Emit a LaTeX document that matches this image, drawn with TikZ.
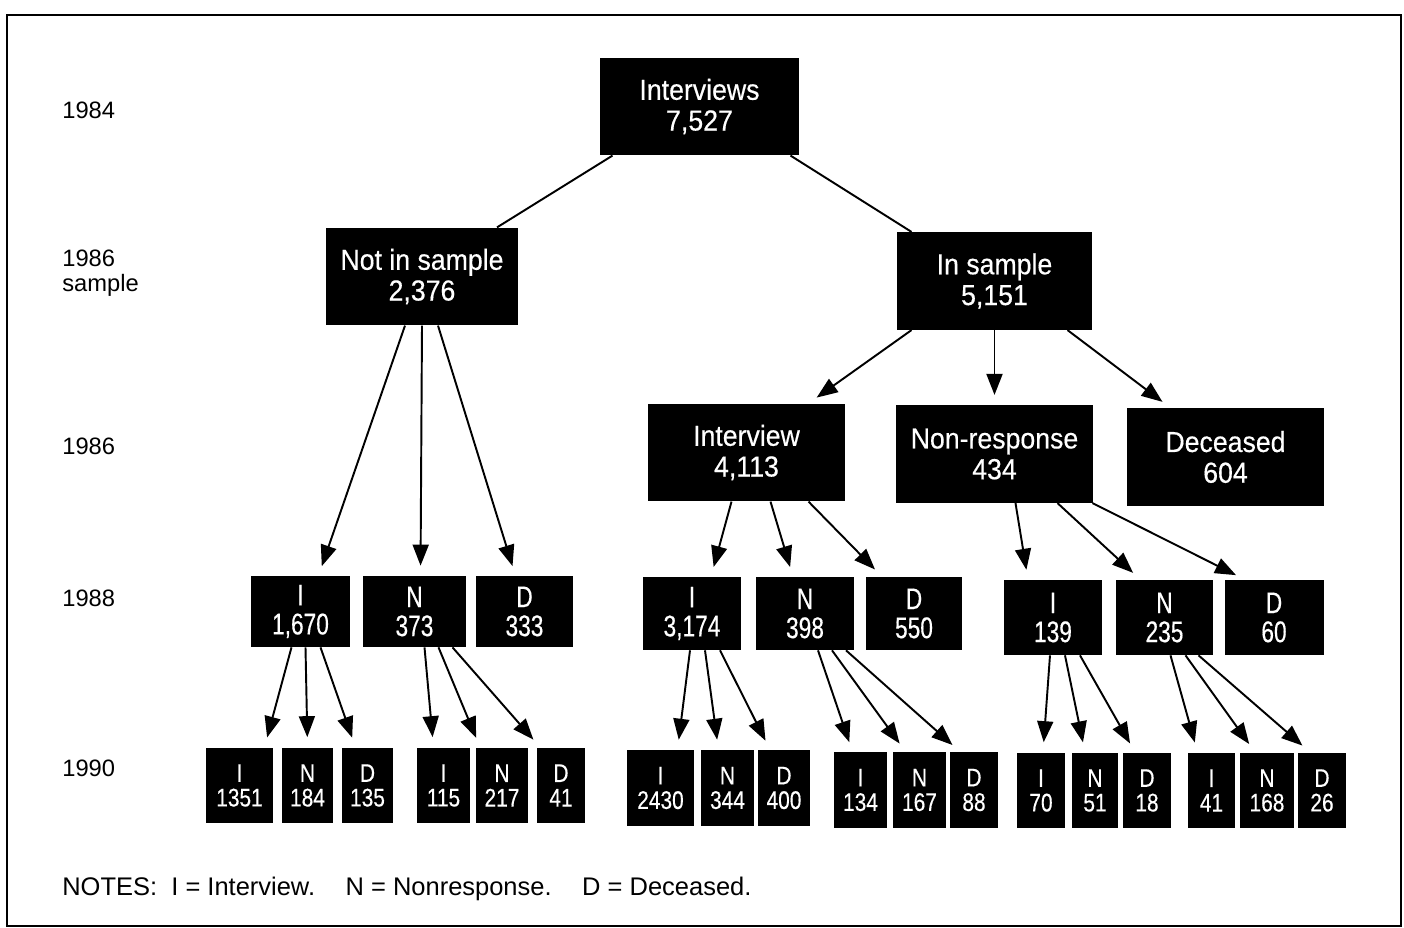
\documentclass[tikz,border=0pt]{standalone}
\usepackage{fontspec}
\setmainfont{Liberation Sans}
\newfontfamily\boxfont[FakeStretch=0.92,FakeBold=0.4]{Liberation Sans}
\newfontfamily\midfont[FakeStretch=0.76,FakeBold=0.4]{Liberation Sans}
\newfontfamily\lowfont[FakeStretch=0.82,FakeBold=0.4]{Liberation Sans}
\usetikzlibrary{arrows.meta,calc}

\tikzset{
  bigbox/.style={fill=black, text=white, align=center, inner sep=0pt,
    minimum width=3.94cm, minimum height=1.95cm,
    font=\boxfont\fontsize{16.5}{17.5}\selectfont},
  midbox/.style={fill=black, text=white, align=center, inner sep=0pt,
    minimum width=1.98cm, minimum height=1.46cm,
    font=\midfont\fontsize{17}{16.5}\selectfont},
  lowbox/.style={fill=black, text=white, align=center, inner sep=0pt,
    minimum height=1.52cm,
    font=\lowfont\fontsize{14.5}{14}\selectfont},
  year/.style={anchor=base west, align=left, inner sep=0pt,
    font=\fontsize{13.5}{14}\selectfont},
  link/.style={line width=1.1pt},
  flow/.style={line width=1.1pt, -{Triangle[length=0.42cm,width=0.32cm]},
    shorten >=0.2cm}
}

\begin{document}
\begin{tikzpicture}[x=0.02cm,y=-0.02cm]
        \useasboundingbox (0,0) rectangle (1404,928);
        \draw[line width=1.2pt] (7,15) rectangle (1401,926);

        % years
        \node[year] (y84) at (62,119) {1984};
        \node[year, anchor=north west] (y86s) at (62,250) {1986\\sample};
        \node[year] (y86) at (62,455) {1986};
        \node[year] (y88) at (62,607) {1988};
        \node[year] (y90) at (62,777) {1990};

        % 1984 and 1986
        \node[bigbox, minimum width=3.98cm] (top) at (699.5,106.5) {Interviews\\7,527};
        \node[bigbox, minimum width=3.84cm] (notin) at (422,276.5) {Not in sample\\2,376};
        \node[bigbox, minimum width=3.90cm] (insample) at (994.5,281) {In sample\\5,151};
        \node[bigbox] (interview) at (746.5,452.5) {Interview\\4,113};
        \node[bigbox] (nonresp) at (994.5,454) {Non-response\\434};
        \node[bigbox] (deceased) at (1225.5,457) {Deceased\\604};

        % 1988
        \node[midbox, minimum height=1.42cm] (i88a) at (300.5,611.5) {I\\1,670};
        \node[midbox, minimum height=1.42cm, minimum width=2.06cm] (n88a) at (414.5,611.5) {N\\373};
        \node[midbox, minimum height=1.42cm, minimum width=1.94cm] (d88a) at (524.5,611.5) {D\\333};
        \node[midbox] (i88b) at (692,613.5) {I\\3,174};
        \node[midbox] (n88b) at (805,613.5) {N\\398};
        \node[midbox, minimum width=1.92cm] (d88b) at (914,613.5) {D\\550};
        \node[midbox, minimum height=1.50cm] (i88c) at (1053,617.5) {I\\139};
        \node[midbox, minimum height=1.50cm, minimum width=1.94cm] (n88c) at (1164.5,617.5) {N\\235};
        \node[midbox, minimum height=1.50cm] (d88c) at (1274,617.5) {D\\60};

        % 1990
        \node[lowbox, minimum width=1.34cm] (i90a) at (239.5,785.5) {I\\1351};
        \node[lowbox, minimum width=1.02cm] (n90a) at (307.5,785.5) {N\\184};
        \node[lowbox, minimum width=1.02cm] (d90a) at (367.5,785.5) {D\\135};
        \node[lowbox, minimum width=1.06cm] (i90b) at (443.5,785.5) {I\\115};
        \node[lowbox, minimum width=1.04cm] (n90b) at (502,785.5) {N\\217};
        \node[lowbox, minimum width=0.96cm] (d90b) at (561,785.5) {D\\41};
        \node[lowbox, minimum width=1.34cm] (i90c) at (660.5,788) {I\\2430};
        \node[lowbox, minimum width=1.06cm] (n90c) at (727.5,788) {N\\344};
        \node[lowbox, minimum width=1.04cm] (d90c) at (784,788) {D\\400};
        \node[lowbox, minimum width=1.06cm] (i90d) at (860.5,790) {I\\134};
        \node[lowbox, minimum width=1.06cm] (n90d) at (919.5,790) {N\\167};
        \node[lowbox, minimum width=0.96cm] (d90d) at (974,790) {D\\88};
        \node[lowbox, minimum width=0.96cm] (i90e) at (1041,790.5) {I\\70};
        \node[lowbox, minimum width=0.92cm] (n90e) at (1095,790.5) {N\\51};
        \node[lowbox, minimum width=0.96cm] (d90e) at (1147,790.5) {D\\18};
        \node[lowbox, minimum width=0.94cm] (i90f) at (1211.5,790.5) {I\\41};
        \node[lowbox, minimum width=1.08cm] (n90f) at (1267,790.5) {N\\168};
        \node[lowbox, minimum width=0.96cm] (d90f) at (1322,790.5) {D\\26};

        % notes
        \node[year, font=\fontsize{14.5}{15}\selectfont] (notes) at (62,896)
          {NOTES:\ \ I = Interview.\hspace{1.2em}N = Nonresponse.\hspace{1.2em}D = Deceased.};

        % connectors
        \draw[link] ($(top.south)+(-87,0)$) -- ($(notin.north)+(75,0)$);
        \draw[link] ($(top.south)+(91,0)$) -- ($(insample.north)+(-83,0)$);

        \draw[flow] ($(notin.south)+(-17,0)$) -- ($(i88a.north)+(18,0)$);
        \draw[flow] ($(notin.south)+(0,0)$) -- ($(n88a.north)+(6,0)$);
        \draw[flow] ($(notin.south)+(16,0)$) -- ($(d88a.north)+(-9,0)$);

        \draw[flow] ($(insample.south)+(-83,0)$) -- ($(interview.north)+(62,0)$);
        \draw[flow] ($(insample.south)+(0,0)$) -- ($(nonresp.north)+(0,0)$);
        \draw[flow] ($(insample.south)+(73,0)$) -- ($(deceased.north)+(-55,0)$);

        \draw[flow] ($(interview.south)+(-15,0)$) -- ($(i88b.north)+(19,0)$);
        \draw[flow] ($(interview.south)+(24,0)$) -- ($(n88b.north)+(-12,0)$);
        \draw[flow] ($(interview.south)+(62,0)$) -- ($(d88b.north)+(-32,0)$);

        \draw[flow] ($(nonresp.south)+(21,0)$) -- ($(i88c.north)+(-25,0)$);
        \draw[flow] ($(nonresp.south)+(63,0)$) -- ($(n88c.north)+(-24,0)$);
        \draw[flow] ($(nonresp.south)+(98,0)$) -- ($(d88c.north)+(-29,0)$);

        \draw[flow] ($(i88a.south)+(-9,0)$) -- ($(i90a.north)+(25,0)$);
        \draw[flow] ($(i88a.south)+(5,0)$) -- ($(n90a.north)+(0,0)$);
        \draw[flow] ($(i88a.south)+(20,0)$) -- ($(d90a.north)+(-12,0)$);

        \draw[flow] ($(n88a.south)+(10,0)$) -- ($(i90b.north)+(-10,0)$);
        \draw[flow] ($(n88a.south)+(24,0)$) -- ($(n90b.north)+(-22,0)$);
        \draw[flow] ($(n88a.south)+(38,0)$) -- ($(d90b.north)+(-21,0)$);

        \draw[flow] ($(i88b.south)+(-2,0)$) -- ($(i90c.north)+(17,0)$);
        \draw[flow] ($(i88b.south)+(13,0)$) -- ($(n90c.north)+(-9,0)$);
        \draw[flow] ($(i88b.south)+(28,0)$) -- ($(d90c.north)+(-14,0)$);

        \draw[flow] ($(n88b.south)+(13,0)$) -- ($(i90d.north)+(-8,0)$);
        \draw[flow] ($(n88b.south)+(27,0)$) -- ($(n90d.north)+(-14,0)$);
        \draw[flow] ($(n88b.south)+(41,0)$) -- ($(d90d.north)+(-14,0)$);

        \draw[flow] ($(i88c.south)+(-3,0)$) -- ($(i90e.north)+(2,0)$);
        \draw[flow] ($(i88c.south)+(12,0)$) -- ($(n90e.north)+(-10,0)$);
        \draw[flow] ($(i88c.south)+(27,0)$) -- ($(d90e.north)+(-12,0)$);

        \draw[flow] ($(n88c.south)+(6,0)$) -- ($(i90f.north)+(-14,0)$);
        \draw[flow] ($(n88c.south)+(21,0)$) -- ($(n90f.north)+(-12,0)$);
        \draw[flow] ($(n88c.south)+(34,0)$) -- ($(d90f.north)+(-12,0)$);
      \end{tikzpicture}
\end{document}
